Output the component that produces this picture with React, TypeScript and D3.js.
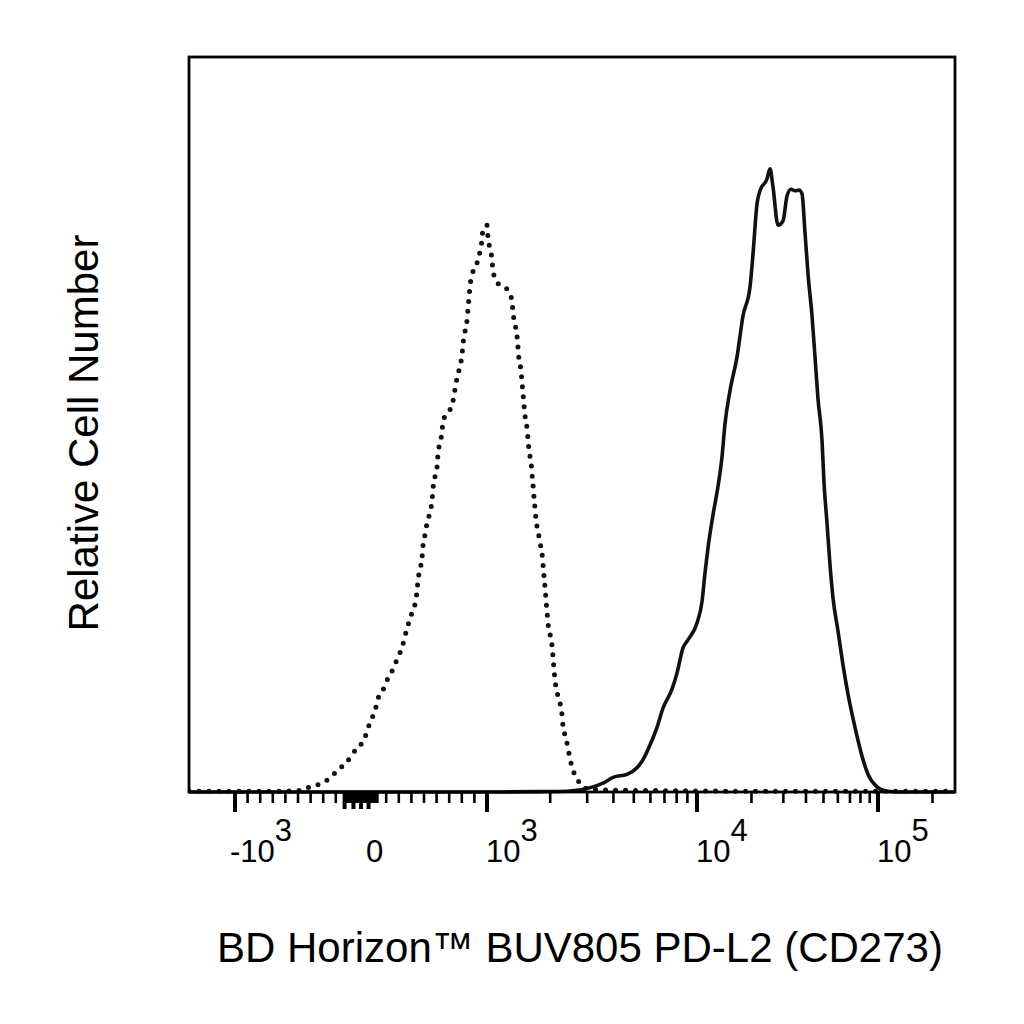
import React from "react";
import * as d3 from "d3";

// ---- Data (fluorescence value, relative cell count %) ----
const isotypeX = [-1365, -800, -643, -484, -405, -325, -246, -183, -111, -63, 8, 48, 71, 111, 135, 175, 214, 254, 294, 325, 349, 373, 405, 429, 444, 452, 468, 484, 492, 508, 524, 548, 564, 571, 587, 603, 611, 627, 643, 651, 706, 730, 746, 762, 786, 802, 810, 825, 841, 849, 857, 865, 881, 921, 944, 960, 968, 1000, 1011, 1033, 1056, 1068, 1116, 1179, 1259, 1315, 1330, 1359, 1390, 1405, 1420, 1451, 1467, 1484, 1500, 1517, 1551, 1567, 1585, 1620, 1638, 1656, 1674, 1693, 1712, 1750, 1789, 1829, 1849, 1869, 1889, 1910, 1931, 1952, 1995, 2040, 2062, 2085, 2108, 2155, 2227, 2276, 2301, 2378, 2431, 2485, 2567, 2711, 2864, 3094, 3450, 6000, 30000, 266000];
const isotypeY = [0.1, 0.1, 0.1, 0.2, 0.7, 1.1, 1.9, 3.0, 4.1, 5.3, 6.7, 8.2, 9.5, 11.0, 12.7, 13.9, 15.5, 16.7, 18.4, 19.6, 21.2, 22.7, 24.4, 25.6, 27.2, 28.7, 30.3, 31.8, 33.5, 35.0, 36.6, 38.1, 39.7, 41.2, 42.9, 44.1, 46.0, 47.5, 49.0, 50.5, 52.0, 53.2, 54.8, 56.3, 58.0, 59.5, 61.0, 62.6, 64.1, 65.7, 67.2, 68.8, 70.3, 72.0, 73.5, 75.1, 76.6, 77.1, 75.4, 74.0, 72.5, 70.9, 69.4, 68.8, 68.3, 66.8, 65.2, 63.7, 62.0, 60.5, 58.9, 57.4, 55.8, 54.3, 52.7, 51.2, 49.5, 48.0, 46.4, 44.9, 43.3, 41.8, 40.1, 38.6, 37.0, 35.5, 33.9, 32.4, 30.9, 29.3, 27.8, 26.1, 24.6, 23.0, 21.5, 19.9, 18.4, 16.7, 15.2, 13.6, 12.1, 10.5, 9.0, 7.3, 5.9, 4.5, 3.0, 1.6, 0.7, 0.4, 0.3, 0.2, 0.1, 0.1];

const stainedX = [-1365, 1000, 1788, 2404, 3197, 3567, 3981, 4642, 5179, 5534, 5973, 6449, 6888, 7603, 8033, 8577, 9060, 10000, 10658, 11071, 11500, 12258, 13064, 13744, 14278, 15217, 16634, 17958, 19628, 20388, 21454, 22286, 24360, 25307, 26299, 28028, 29870, 31433, 33070, 34790, 36600, 38030, 39510, 41050, 43190, 44870, 46610, 49040, 50300, 52260, 54300, 56420, 60120, 64060, 68280, 74640, 81560, 88070, 98740, 112100, 132300, 266000];
const stainedY = [0, 0, 0.05, 0.1, 0.7, 1.2, 2.0, 2.4, 3.3, 4.4, 6.4, 8.8, 11.4, 14.0, 16.2, 19.6, 20.7, 23.0, 25.9, 29.8, 33.2, 37.7, 41.6, 45.6, 50.1, 54.6, 59.2, 64.8, 68.7, 73.2, 80.0, 81.8, 83.4, 84.8, 82.3, 77.1, 77.7, 81.1, 82.0, 81.8, 81.9, 81.4, 76.1, 70.5, 64.8, 59.2, 53.5, 47.9, 42.2, 36.6, 30.9, 26.4, 21.9, 17.3, 13.3, 8.8, 4.9, 2.4, 0.7, 0.1, 0, 0];

const majorTicks = [-1000, 1000, 10000, 100000];
const labelValues = [-1000, 0, 1000, 10000, 100000];
const labelBases = ["-10", "0", "10", "10", "10"];
const labelExps = ["3", "", "3", "4", "5"];

const xTitle = "BD Horizon\u2122 BUV805 PD-L2 (CD273)";
const yTitle = "Relative Cell Number";

// ---- Layout ----
const W = 1024;
const H = 1024;
const left = 189;
const right = 955;
const top = 57;
const bottom = 792;

// biexponential-like display transform (decade units)
const biex = (v: number) => (v <= 1000 ? v / 1000 : 1 + Math.log10(v / 1000));
const tScale = d3.scaleLinear().domain([-1, 0, 1, 2, 3]).range([235, 361, 487, 697, 878]);
const x = (v: number) => tScale(biex(v));
const y = d3.scaleLinear().domain([0, 100]).range([bottom, top]);

const minorTicks: number[] = [
  ...d3.range(-900, -100, 100),
  ...d3.range(-130, 131, 10),
  ...d3.range(200, 1000, 100),
  ...d3.range(2000, 10000, 1000),
  ...d3.range(20000, 100000, 10000),
  200000,
];

const line = d3
  .line<[number, number]>()
  .x((d) => x(d[0]))
  .y((d) => y(d[1]))
  .curve(d3.curveMonotoneX);

const FONT = "'Liberation Sans', Arial, Helvetica, sans-serif";

export default function App() {
  const iso = isotypeX.map((v, i) => [v, isotypeY[i]] as [number, number]);
  const st = stainedX.map((v, i) => [v, stainedY[i]] as [number, number]);
  return (
    <svg
      width={W}
      height={H}
      viewBox={`0 0 ${W} ${H}`}
      style={{ position: "absolute", left: 0, top: 0, background: "#fff" }}
    >
      <rect x={0} y={0} width={W} height={H} fill="#fff" />
      <defs>
        <clipPath id="plotClip">
          <rect x={left} y={top - 2} width={right - left} height={bottom - top + 4} />
        </clipPath>
      </defs>
      <g clipPath="url(#plotClip)">
        <path
          d={line(iso) || ""}
          fill="none"
          stroke="#111"
          strokeWidth={5}
          strokeLinecap="round"
          strokeDasharray="0 10"
        />
        <path d={line(st) || ""} fill="none" stroke="#111" strokeWidth={3.6} strokeLinejoin="round" />
      </g>
      <rect
        x={left}
        y={top}
        width={right - left}
        height={bottom - top}
        fill="none"
        stroke="#000"
        strokeWidth={2.8}
      />
      {minorTicks.map((v, i) => (
        <line key={"m" + i} x1={x(v)} x2={x(v)} y1={bottom} y2={bottom + 11} stroke="#000" strokeWidth={2.6} />
      ))}
      {[-130, -60, 0, 60].map((v, i) => (
        <line key={"z" + i} x1={x(v)} x2={x(v)} y1={bottom} y2={bottom + 17} stroke="#000" strokeWidth={4} />
      ))}
      {majorTicks.map((v, i) => (
        <line key={"M" + i} x1={x(v)} x2={x(v)} y1={bottom} y2={bottom + 20} stroke="#000" strokeWidth={4} />
      ))}
      {labelValues.map((v, i) => (
        <text
          key={"l" + i}
          x={x(v) + (labelBases[i].startsWith("-") ? -5 : labelExps[i] ? -1 : 5)}
          y={862}
          fontFamily={FONT}
          fontSize={31}
          fill="#000"
        >
          {labelBases[i]}
          {labelExps[i] ? (
            <tspan dy={-21} fontSize={31}>
              {labelExps[i]}
            </tspan>
          ) : null}
        </text>
      ))}
      <text x={217} y={962} fontFamily={FONT} fontSize={42} fill="#000">
        {xTitle}
      </text>
      <text
        transform={`translate(98, 433) rotate(-90)`}
        textAnchor="middle"
        fontFamily={FONT}
        fontSize={42}
        fill="#000"
      >
        {yTitle}
      </text>
    </svg>
  );
}
